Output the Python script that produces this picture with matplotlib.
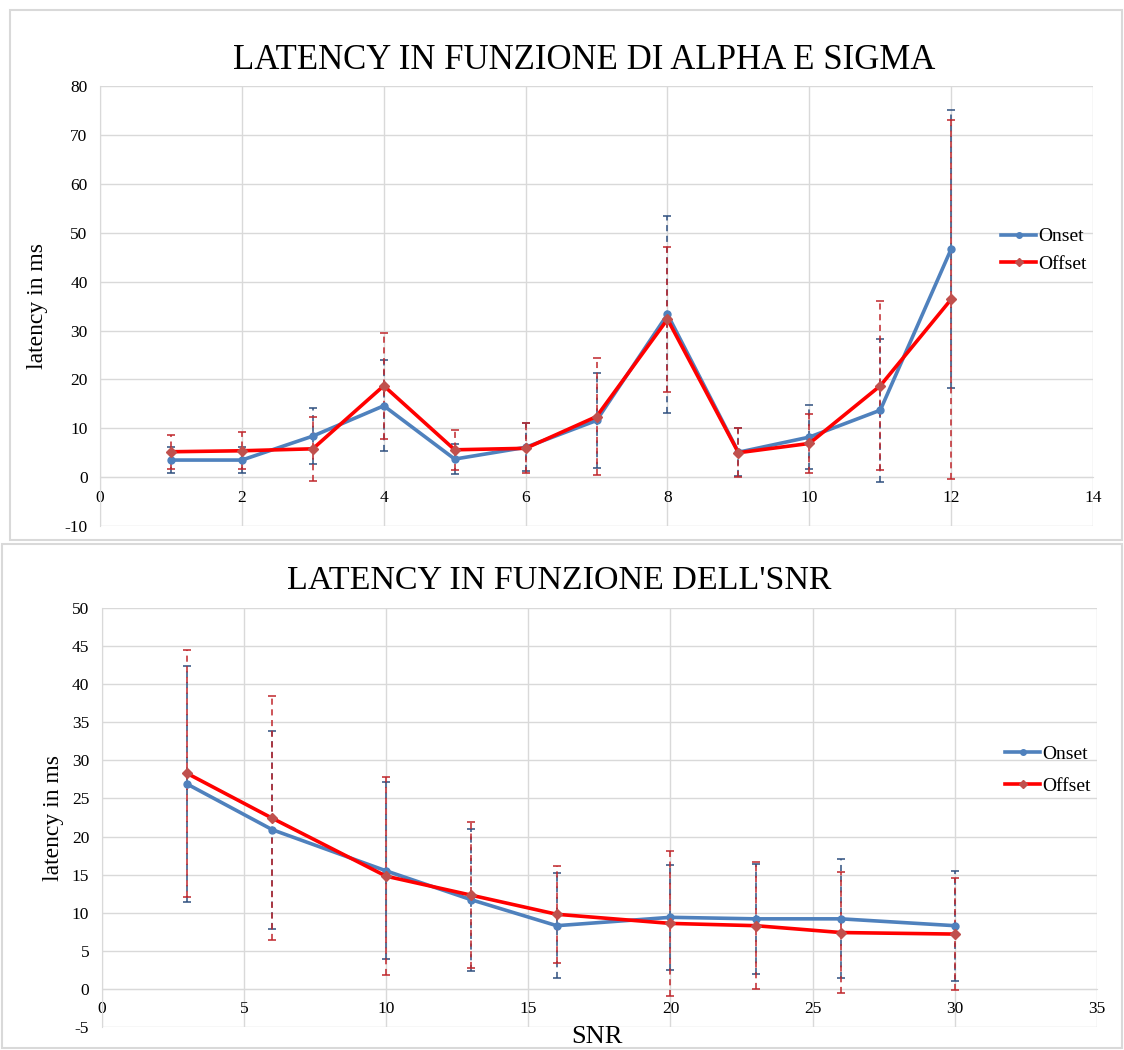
import numpy as np
import matplotlib.pyplot as plt
from matplotlib.patches import Rectangle
from matplotlib.lines import Line2D

plt.rcParams['font.family'] = ['Liberation Serif', 'DejaVu Serif']
plt.rcParams['axes.unicode_minus'] = False

# chart 1: latency vs alpha/sigma configuration
x_alpha = [1, 2, 3, 4, 5, 6, 7, 8, 9, 10, 11, 12]
onset_alpha = [3.5, 3.5, 8.4, 14.6, 3.7, 6.1, 11.6, 33.3, 5.1, 8.2, 13.7, 46.7]
onset_alpha_err = [2.7, 2.7, 5.8, 9.3, 3.0, 4.9, 9.8, 20.1, 4.9, 6.6, 14.6, 28.5]
offset_alpha = [5.2, 5.4, 5.8, 18.7, 5.6, 5.9, 12.4, 32.3, 5.0, 6.9, 18.7, 36.4]
offset_alpha_err = [3.5, 3.8, 6.6, 10.8, 4.1, 5.1, 11.9, 14.8, 5.0, 6.0, 17.3, 36.7]

# chart 2: latency vs SNR
x_snr = [3, 6, 10, 13, 16, 20, 23, 26, 30]
onset_snr = [26.9, 20.9, 15.5, 11.7, 8.3, 9.4, 9.2, 9.2, 8.3]
onset_snr_err = [15.5, 13.0, 11.6, 9.3, 6.9, 6.9, 7.2, 7.8, 7.2]
offset_snr = [28.3, 22.4, 14.8, 12.3, 9.8, 8.6, 8.3, 7.4, 7.2]
offset_snr_err = [16.2, 16.0, 13.0, 9.6, 6.4, 9.5, 8.3, 7.9, 7.3]

BLUE = '#4f81bd'
RED = '#ff0000'
RED_MK = '#c0504d'
GRID = '#d9d9d9'

fig = plt.figure(figsize=(11.24, 10.5), dpi=100)

# chart frames (like the two Excel chart boxes)
fig.patches.append(Rectangle((10 / 1124, 1 - 540 / 1050), 1112 / 1124, 530 / 1050,
                             transform=fig.transFigure, fill=False, ec=GRID, lw=1.5))
fig.patches.append(Rectangle((2 / 1124, 1 - 1048 / 1050), 1120 / 1124, 504 / 1050,
                             transform=fig.transFigure, fill=False, ec=GRID, lw=1.5))


def draw(ax, x, on, on_err, off, off_err, leg_y, spacing):
    for y, err, c, mc, ecol, mk in [(on, on_err, BLUE, BLUE, '#2f4f7f', 'o'),
                                    (off, off_err, RED, RED_MK, '#c0262b', 'D')]:
        eb = ax.errorbar(x, y, yerr=err, color=c, lw=2.6, marker=mk, ms=5,
                         mfc=mc, mec=mc, ecolor=ecol, elinewidth=1.1,
                         capsize=3, capthick=1.1, zorder=3)
        eb[2][0].set_linestyle((0, (4, 3)))
    ax.grid(True, color=GRID, lw=1)
    ax.set_axisbelow(True)
    ax.spines['top'].set_visible(False)
    ax.spines['right'].set_visible(False)
    ax.spines['left'].set_color(GRID)
    ax.spines['bottom'].set_color(GRID)
    ax.spines['bottom'].set_position(('data', 0))
    ax.tick_params(length=0, labelsize=12.5, pad=9)
    handles = [Line2D([], [], color=BLUE, lw=2.6, marker='o', ms=4),
               Line2D([], [], color=RED, lw=2.6, marker='D', ms=4, mfc=RED_MK, mec=RED_MK)]
    ax.legend(handles, ['Onset', 'Offset'], loc='center left', bbox_to_anchor=(0.89, leg_y),
              frameon=False, fontsize=14, handlelength=1.8, handletextpad=0.1,
              labelspacing=spacing)


ax1 = fig.add_axes([0.089, 0.499, 0.8835, 0.419])
draw(ax1, x_alpha, onset_alpha, onset_alpha_err, offset_alpha, offset_alpha_err, 0.627, 0.5)
ax1.set_xlim(0, 14)
ax1.set_ylim(-10, 80)
ax1.set_xticks(np.arange(0, 15, 2))
ax1.set_yticks(np.arange(-10, 81, 10))
ax1.set_title('LATENCY IN FUNZIONE DI ALPHA E SIGMA', fontsize=25, pad=12, x=0.488)
ax1.set_ylabel('latency in ms', fontsize=17, labelpad=12)

ax2 = fig.add_axes([0.0905, 0.0219, 0.8855, 0.399])
draw(ax2, x_snr, onset_snr, onset_snr_err, offset_snr, offset_snr_err, 0.613, 0.75)
ax2.set_xlim(0, 35)
ax2.set_ylim(-5, 50)
ax2.set_xticks(np.arange(0, 36, 5))
ax2.set_yticks(np.arange(-5, 51, 5))
ax2.set_title("LATENCY IN FUNZIONE DELL'SNR", fontsize=24.5, pad=14, x=0.46)
ax2.set_ylabel('latency in ms', fontsize=17, labelpad=6)

fig.text(597 / 1124, 1 - 1037 / 1050, 'SNR', fontsize=19, ha='center', va='center')

fig.savefig('out.png', dpi=100)
